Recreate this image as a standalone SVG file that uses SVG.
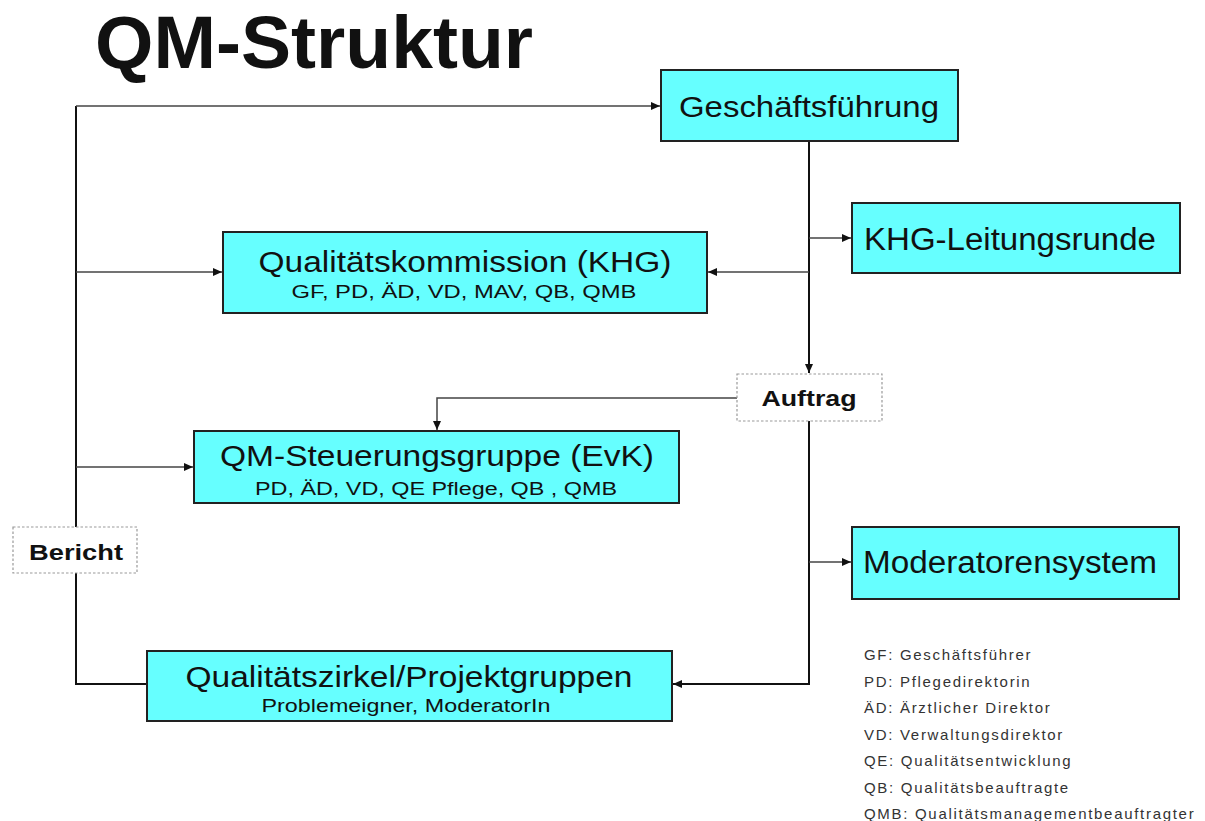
<svg xmlns="http://www.w3.org/2000/svg" width="1205" height="821" viewBox="0 0 1205 821">
<defs>
<marker id="ah" markerUnits="userSpaceOnUse" markerWidth="9" markerHeight="8" refX="9" refY="4" orient="auto">
<path d="M0,0 L9,4 L0,8 z" fill="#111"/>
</marker>
<style>
.box{fill:#66FFFF;stroke:#222;stroke-width:2}
.dbox{fill:#fff;stroke:#999;stroke-width:1.2;stroke-dasharray:2.5,2}
.t{font-family:"Liberation Sans",Arial,sans-serif;fill:#111}
.m{font-size:29px;text-anchor:middle}
.b{font-size:31px}
.s{font-size:18px;text-anchor:middle}
.lbl{font-size:22px;font-weight:bold;text-anchor:middle}
.leg{font-family:"Liberation Sans",Arial,sans-serif;font-size:15px;fill:#333;letter-spacing:1.7px}
.c{fill:none;stroke:#444;stroke-width:1.5}
.ck{fill:none;stroke:#111;stroke-width:2}
</style>
</defs>
<rect width="1205" height="821" fill="#fff"/>
<text class="t" x="95" y="68" font-size="74" font-weight="bold" textLength="438" lengthAdjust="spacingAndGlyphs">QM-Struktur</text>

<g id="connectors">
<path class="ck" d="M76,106 V684 H147"/>
<path class="c" d="M76,106 H660" marker-end="url(#ah)"/>
<path class="c" d="M76,272 H222" marker-end="url(#ah)"/>
<path class="c" d="M76,467 H193" marker-end="url(#ah)"/>
<path class="ck" d="M809,141 V373" marker-end="url(#ah)"/>
<path class="c" d="M809,238 H851" marker-end="url(#ah)"/>
<path class="c" d="M809,272 H708" marker-end="url(#ah)"/>
<path class="c" d="M737,398 H437 V430" marker-end="url(#ah)"/>
<path class="ck" d="M809,421 V684 H673" marker-end="url(#ah)"/>
<path class="c" d="M809,562 H851" marker-end="url(#ah)"/>
</g>

<g id="gf">
<rect class="box" x="661" y="70" width="297" height="71"/>
<text class="t m" x="809" y="117" textLength="260" lengthAdjust="spacingAndGlyphs">Geschäftsführung</text>
</g>
<g id="khg-leitungsrunde">
<rect class="box" x="852" y="203" width="328" height="70"/>
<text class="t b" x="864" y="250" textLength="292" lengthAdjust="spacingAndGlyphs">KHG-Leitungsrunde</text>
</g>
<g id="qualitaetskommission">
<rect class="box" x="223" y="232" width="484" height="81"/>
<text class="t m" x="465" y="272" textLength="413" lengthAdjust="spacingAndGlyphs">Qualitätskommission (KHG)</text>
<text class="t s" x="464" y="298" textLength="345" lengthAdjust="spacingAndGlyphs">GF, PD, ÄD, VD, MAV, QB, QMB</text>
</g>
<g id="auftrag">
<rect class="dbox" x="737" y="374" width="145" height="47"/>
<text class="t lbl" x="809" y="406" textLength="95" lengthAdjust="spacingAndGlyphs">Auftrag</text>
</g>
<g id="qm-steuerungsgruppe">
<rect class="box" x="194" y="431" width="485" height="72"/>
<text class="t m" x="437" y="466" textLength="434" lengthAdjust="spacingAndGlyphs">QM-Steuerungsgruppe (EvK)</text>
<text class="t s" x="436" y="495" textLength="362" lengthAdjust="spacingAndGlyphs">PD, ÄD, VD, QE Pflege, QB , QMB</text>
</g>
<g id="bericht">
<rect class="dbox" x="13" y="527" width="124" height="46"/>
<text class="t lbl" x="76" y="560" textLength="94" lengthAdjust="spacingAndGlyphs">Bericht</text>
</g>
<g id="moderatorensystem">
<rect class="box" x="852" y="527" width="327" height="72"/>
<text class="t b" x="863" y="573" textLength="294" lengthAdjust="spacingAndGlyphs">Moderatorensystem</text>
</g>
<g id="qualitaetszirkel">
<rect class="box" x="147" y="651" width="525" height="70"/>
<text class="t m" x="409" y="687" textLength="447" lengthAdjust="spacingAndGlyphs">Qualitätszirkel/Projektgruppen</text>
<text class="t s" x="406" y="712" textLength="289" lengthAdjust="spacingAndGlyphs">Problemeigner, ModeratorIn</text>
</g>
<g id="legend">
<text class="leg" x="864" y="660">GF: Geschäftsführer</text>
<text class="leg" x="864" y="687">PD: Pflegedirektorin</text>
<text class="leg" x="864" y="713">ÄD: Ärztlicher Direktor</text>
<text class="leg" x="864" y="740">VD: Verwaltungsdirektor</text>
<text class="leg" x="864" y="766">QE: Qualitätsentwicklung</text>
<text class="leg" x="864" y="793">QB: Qualitätsbeauftragte</text>
<text class="leg" x="864" y="819">QMB: Qualitätsmanagementbeauftragter</text>
</g>
</svg>
